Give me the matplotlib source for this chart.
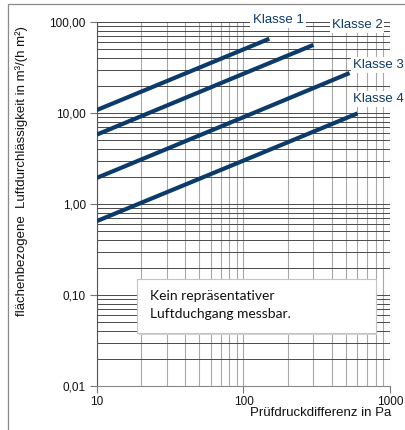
import matplotlib
matplotlib.use("Agg")
import matplotlib.pyplot as plt
from matplotlib.patches import Rectangle
from matplotlib.ticker import FixedLocator, FixedFormatter, LogLocator, NullFormatter
import numpy as np

# Data
klasse1_x = [10, 100, 150]
klasse1_y = [10.8, 50, 65.5]
klasse2_x = [10, 100, 300]
klasse2_y = [5.8, 27, 56]
klasse3_x = [10, 100, 530]
klasse3_y = [1.94, 9, 27.5]
klasse4_x = [10, 100, 600]
klasse4_y = [0.65, 3, 9.9]
series_labels = ["Klasse 1", "Klasse 2", "Klasse 3", "Klasse 4"]
y_ticks = [0.01, 0.1, 1, 10, 100]
y_tick_labels = ["0,01", "0,10", "1,00", "10,00", "100,00"]
x_ticks = [10, 100, 1000]
x_tick_labels = ["10", "100", "1000"]

W, H = 406, 430
fig = plt.figure(figsize=(W / 100, H / 100), dpi=100)
FONT = ['Liberation Sans Narrow', 'Liberation Sans', 'DejaVu Sans']
plt.rcParams['font.family'] = FONT

# outer frame
fig.patches.append(Rectangle((8 / W, -0.1), 1.2, 1 - 4 / H + 0.1, transform=fig.transFigure,
                             fill=False, edgecolor='#8a8a8a', linewidth=0.9))

ax = fig.add_axes([97 / W, 1 - 386 / H, (390 - 97) / W, (386 - 22) / H])
ax.set_xscale('log')
ax.set_yscale('log')
ax.set_xlim(10, 1000)
ax.set_ylim(0.01, 100)

ax.xaxis.set_major_locator(FixedLocator(x_ticks))
ax.xaxis.set_major_formatter(FixedFormatter(x_tick_labels))
ax.yaxis.set_major_locator(FixedLocator(y_ticks))
ax.yaxis.set_major_formatter(FixedFormatter(y_tick_labels))
ax.xaxis.set_minor_locator(LogLocator(base=10, subs=np.arange(2, 10)))
ax.yaxis.set_minor_locator(LogLocator(base=10, subs=np.arange(2, 10)))
ax.xaxis.set_minor_formatter(NullFormatter())
ax.yaxis.set_minor_formatter(NullFormatter())

ax.grid(True, axis='y', which='both', color='#4a4a4a', linewidth=0.7)
ax.grid(True, axis='x', which='both', color='#a8a8a8', linewidth=0.8)
ax.set_axisbelow(True)
for s in ['top', 'right']:
    ax.spines[s].set_visible(False)
ax.spines['left'].set_color('#555555')
ax.spines['bottom'].set_color('#888888')
ax.tick_params(which='minor', length=0)
ax.tick_params(which='major', length=5, color='#777777', labelsize=8.5, pad=3, labelcolor='#111111')
ax.tick_params(axis='x', which='major', pad=2)

navy = '#0c3a6b'
for xs, ys in [(klasse1_x, klasse1_y), (klasse2_x, klasse2_y), (klasse3_x, klasse3_y), (klasse4_x, klasse4_y)]:
    ax.plot(xs, ys, color=navy, linewidth=3.0, solid_capstyle='butt', zorder=3)

bb = dict(facecolor='white', edgecolor='none', pad=1.5)
lab_pos = [(278, 20, 'center'), (357, 25, 'center'), (353, 65, 'left'), (353, 99, 'left')]
for (px, py, ha), lab in zip(lab_pos, series_labels):
    fig.text(px / W, 1 - py / H, lab, ha=ha, va='center', fontsize=9.5, color=navy, bbox=bb, zorder=5)

# text box
fig.patches.append(Rectangle((139 / W, 1 - 335 / H), (377 - 139) / W, (335 - 281) / H,
                             transform=fig.transFigure, facecolor='#d0d0d0', edgecolor='none', zorder=4))
fig.patches.append(Rectangle((137 / W, 1 - 333 / H), (376 - 137) / W, (333 - 279) / H,
                             transform=fig.transFigure, facecolor='white', edgecolor='#c4c4c4', linewidth=0.8, zorder=5))
fig.text(150 / W, 1 - 305 / H, "Kein repräsentativer\nLuftduchgang messbar.", ha='left', va='center',
         fontsize=10, family=['Lato', 'DejaVu Sans'], color='#111111', linespacing=1.55, zorder=6)

fig.text(22 / W, 1 - 171 / H, "flächenbezogene  Luftdurchlässigkeit in m³/(h m²)", rotation=90,
         ha='center', va='center', fontsize=9.5, color='#111111')
fig.text(391 / W, 1 - 413 / H, "Prüfdruckdifferenz in Pa", ha='right', va='center', fontsize=9.5, color='#111111')

fig.savefig('out.png', dpi=100)
